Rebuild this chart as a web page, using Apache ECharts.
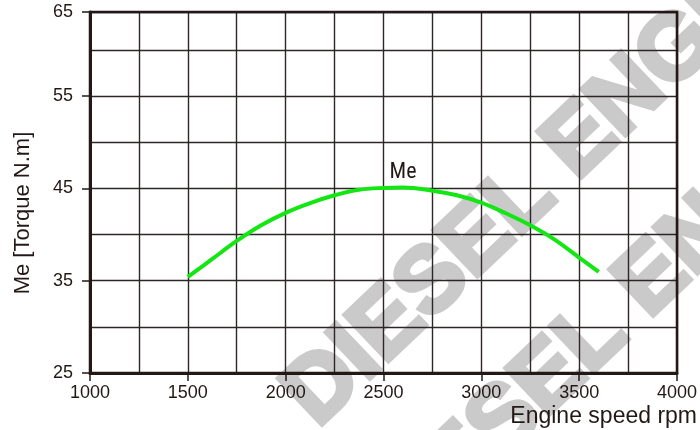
<!DOCTYPE html>
<html>
<head>
<meta charset="utf-8">
<script src="https://cdn.jsdelivr.net/npm/echarts@6/dist/echarts.min.js"></script>
<style>html,body{margin:0;padding:0;background:#fff}#c{width:700px;height:430px}</style>
</head>
<body>
<div id="c"></div>
<script>
// Data
const speedRpm = [1500, 1625, 1750, 1875, 2000, 2125, 2250, 2375, 2500, 2600, 2750, 2875, 3000, 3125, 3250, 3375, 3500, 3600];
const torqueNm = [35.4, 37.35, 39.3, 41.0, 42.35, 43.4, 44.25, 44.85, 45.05, 45.1, 44.75, 44.25, 43.45, 42.3, 41.0, 39.45, 37.5, 35.95];
const seriesName = 'Me';
const labelIndex = 9;
const xTickValues = [1000, 1500, 2000, 2500, 3000, 3500, 4000];
const yTickValues = [25, 35, 45, 55];
const yTopValue = 64.1;
const yTopLabel = '65';
const xTitle = 'Engine speed rpm';
const yTitle = 'Me [Torque N.m]';
const watermark = 'DIESEL ENGINE';

const ink = '#231815';
const gridInk = '#2e2624';
const font = '"Liberation Sans", Arial, sans-serif';
const wmStyle = { text: watermark, font: 'bold 92px "Liberation Sans", Arial, sans-serif', fill: '#cacaca',
  stroke: '#cacaca', lineWidth: 5, textAlign: 'left', textVerticalAlign: 'middle' };

const chart = echarts.init(document.getElementById('c'), null, { renderer: 'canvas' });
chart.setOption({
  animation: false,
  backgroundColor: '#fff',
  grid: { left: 90, right: 22, top: 12, bottom: 57, show: true, borderColor: ink, borderWidth: 2.5, z: 3 },
  graphic: [
    { type: 'text', x: 300, y: 410, rotation: 0.761, z: -10, silent: true, style: wmStyle },
    { type: 'text', x: 372, y: 548, rotation: 0.761, z: -10, silent: true, style: wmStyle },
    { type: 'text', right: 3, top: 405, z: 10,
      style: { text: xTitle, font: '23px "Liberation Sans", Arial, sans-serif', fill: ink } },
    { type: 'text', x: 23, y: 213, rotation: Math.PI / 2, z: 10,
      style: { text: yTitle, font: '22px "Liberation Sans", Arial, sans-serif', fill: ink,
        textAlign: 'center', textVerticalAlign: 'middle' } }
  ],
  xAxis: [{
    type: 'value', min: 1000, max: 4000, interval: 250, position: 'bottom',
    axisLine: { show: true, lineStyle: { color: ink, width: 3 } },
    axisTick: { show: false }, axisLabel: { show: false },
    splitLine: { show: true, lineStyle: { color: gridInk, width: 1.4 } }
  }, {
    type: 'value', min: 1000, max: 4000, interval: 500, position: 'bottom', offset: 0,
    axisLine: { show: false },
    axisTick: { show: true, length: 8, customValues: xTickValues, lineStyle: { color: ink, width: 1.5 } },
    axisLabel: { customValues: xTickValues, color: ink, fontSize: 18, fontFamily: font, margin: 11,
      formatter: v => String(v) },
    splitLine: { show: false }
  }],
  yAxis: [{
    type: 'value', min: 25, max: yTopValue, interval: 5, position: 'left',
    axisLine: { show: true, lineStyle: { color: ink, width: 3 } },
    axisTick: { show: false }, axisLabel: { show: false },
    splitLine: { show: true, lineStyle: { color: gridInk, width: 1.4 } }
  }, {
    type: 'value', min: 25, max: yTopValue, interval: 10, position: 'left', offset: 0,
    axisLine: { show: false },
    axisTick: { show: true, length: 8, customValues: yTickValues.concat([yTopValue]), lineStyle: { color: ink, width: 1.5 } },
    axisLabel: { customValues: yTickValues.concat([yTopValue]), color: ink, fontSize: 18, fontFamily: font, margin: 17,
      formatter: v => (Math.abs(v - yTopValue) < 1e-6 ? yTopLabel : String(v)) },
    splitLine: { show: false }
  }],
  series: [{
    name: seriesName, type: 'line', xAxisIndex: 0, yAxisIndex: 0,
    data: speedRpm.map((x, i) => [x, torqueNm[i]]),
    smooth: 0.35, showSymbol: false, symbol: 'none',
    lineStyle: { color: '#14e614', width: 4 }, z: 5,
    markPoint: {
      symbol: 'circle', symbolSize: 1, itemStyle: { color: 'rgba(0,0,0,0)' }, silent: true,
      data: [{ coord: [speedRpm[labelIndex], torqueNm[labelIndex]], value: seriesName }],
      label: { show: true, formatter: seriesName, position: 'top', distance: 3, color: ink, fontSize: 22,
        fontFamily: '"Liberation Sans Narrow", "Arial Narrow", "Roboto Condensed", sans-serif' }
    }
  }]
});
</script>
</body>
</html>
